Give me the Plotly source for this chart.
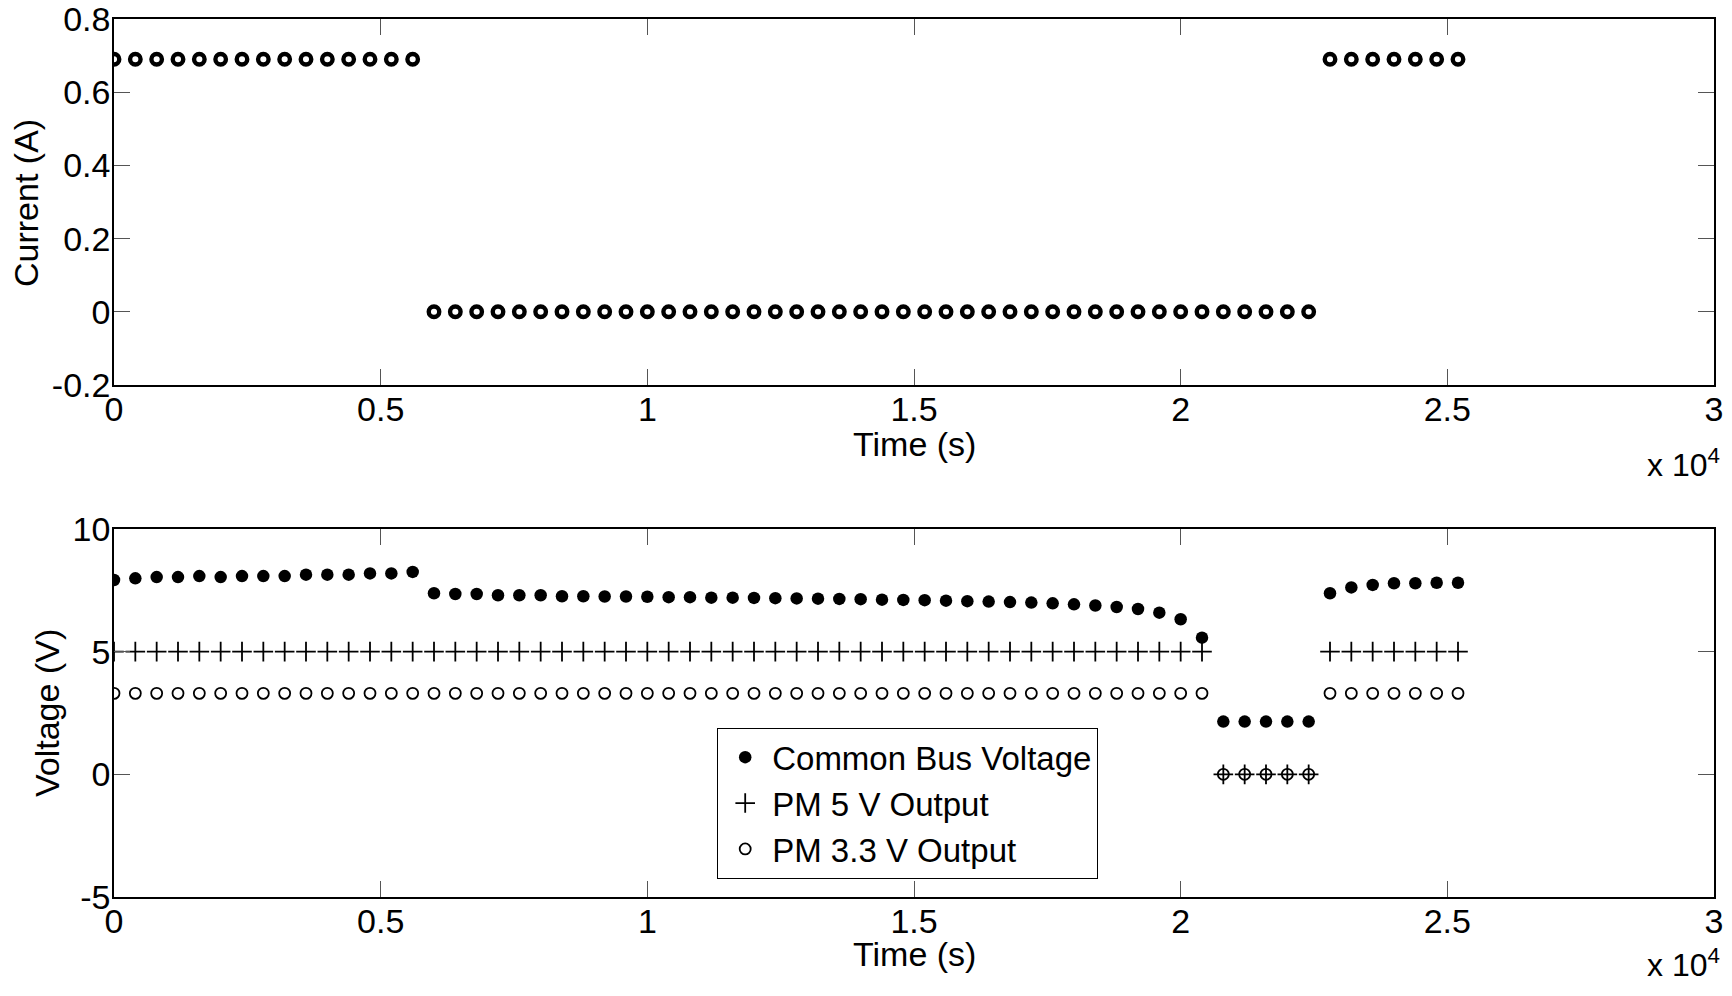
import plotly.graph_objects as go

# ---------------- data ----------------
time_s = [0, 400, 800, 1200, 1600, 2000, 2400, 2800, 3200, 3600, 4000, 4400, 4800, 5200, 5600,
          6000, 6400, 6800, 7200, 7600, 8000, 8400, 8800, 9200, 9600, 10000, 10400, 10800,
          11200, 11600, 12000, 12400, 12800, 13200, 13600, 14000, 14400, 14800, 15200, 15600,
          16000, 16400, 16800, 17200, 17600, 18000, 18400, 18800, 19200, 19600, 20000, 20400,
          20800, 21200, 21600, 22000, 22400,
          22800, 23200, 23600, 24000, 24400, 24800, 25200]

current_a = [0.69] * 15 + [0.0] * 42 + [0.69] * 7

bus_voltage = [7.92, 7.99, 8.04, 8.04, 8.08, 8.04, 8.08, 8.08, 8.08, 8.14, 8.14, 8.14, 8.19, 8.19, 8.25,
               7.38, 7.35, 7.35, 7.30, 7.30, 7.30, 7.26, 7.26, 7.25, 7.25, 7.24, 7.22, 7.22,
               7.20, 7.20, 7.19, 7.18, 7.17, 7.16, 7.15, 7.14, 7.12, 7.11, 7.10, 7.08,
               7.06, 7.04, 7.02, 7.00, 6.97, 6.93, 6.88, 6.82, 6.74, 6.59, 6.32, 5.57,
               2.15, 2.15, 2.15, 2.15, 2.15,
               7.38, 7.62, 7.72, 7.79, 7.79, 7.81, 7.81]

pm5_voltage = [5.0] * 52 + [0.0] * 5 + [5.0] * 7
pm33_voltage = [3.3] * 52 + [0.0] * 5 + [3.3] * 7

x_tickvals = [0, 5000, 10000, 15000, 20000, 25000, 30000]
x_ticktext = ["0", "0.5", "1", "1.5", "2", "2.5", "3"]
cur_tickvals = [-0.2, 0, 0.2, 0.4, 0.6, 0.8]
cur_ticktext = ["-0.2", "0", "0.2", "0.4", "0.6", "0.8"]
volt_tickvals = [-5, 0, 5, 10]
volt_ticktext = ["-5", "0", "5", "10"]

# ---------------- figure ----------------
FONT = "Liberation Sans, Arial, sans-serif"
W, H = 1732, 996
OFF = 8                      # default page body margin
FW, FH = W - 2 * OFF, H - 2 * OFF
FS = 34
EPS = 1e-6


def px(x):
    return (x - OFF) / FW


def py(y):
    return 1 - (y - OFF) / FH


fig = go.Figure()

fig.add_trace(go.Scatter(
    x=time_s, y=current_a, mode="markers", xaxis="x", yaxis="y",
    marker=dict(symbol="circle-open", size=10.5, color="black", line=dict(width=4.4, color="black")),
    showlegend=False, name="Current"))

fig.add_trace(go.Scatter(
    x=time_s, y=bus_voltage, mode="markers", xaxis="x2", yaxis="y2",
    marker=dict(symbol="circle", size=12.5, color="black"),
    name="Common Bus Voltage"))
fig.add_trace(go.Scatter(
    x=time_s, y=pm5_voltage, mode="markers", xaxis="x2", yaxis="y2",
    marker=dict(symbol="cross-thin-open", size=14, color="black", line=dict(width=1.8, color="black")),
    name="PM 5 V Output"))
fig.add_trace(go.Scatter(
    x=time_s, y=pm33_voltage, mode="markers", xaxis="x2", yaxis="y2",
    marker=dict(symbol="circle-open", size=11, color="black", line=dict(width=1.8, color="black")),
    name="PM 3.3 V Output"))

xdom = [px(114), px(1714)]
top_dom = [py(385), py(19)]
bot_dom = [py(897), py(529)]

axis_common = dict(
    showline=True, linecolor="black", linewidth=1.5, mirror="ticks",
    ticks="inside", ticklen=16, tickwidth=1.2, tickcolor="#555",
    showgrid=False, zeroline=False, automargin=False, ticklabeloverflow="allow",
    tickfont=dict(family=FONT, size=FS, color="black"),
)

fig.update_layout(
    template="none",
    width=FW, height=FH,
    margin=dict(l=0, r=0, t=0, b=0, pad=0, autoexpand=False),
    paper_bgcolor="white", plot_bgcolor="white",
    font=dict(family=FONT, size=FS, color="black"),
    xaxis=dict(domain=xdom, anchor="y", range=[0, 30000 + EPS], tickvals=x_tickvals, ticktext=x_ticktext,
               ticklabelstandoff=-7, **axis_common),
    yaxis=dict(domain=top_dom, anchor="x", range=[-0.2 - EPS, 0.8 + EPS], tickvals=cur_tickvals,
               ticktext=cur_ticktext, ticklabelstandoff=-5, **axis_common),
    xaxis2=dict(domain=xdom, anchor="y2", range=[0, 30000 + EPS], tickvals=x_tickvals, ticktext=x_ticktext,
                ticklabelstandoff=-7, **axis_common),
    yaxis2=dict(domain=bot_dom, anchor="x2", range=[-5 - EPS, 10 + EPS], tickvals=volt_tickvals,
                ticktext=volt_ticktext, ticklabelstandoff=-5, **axis_common),
    legend=dict(
        x=px(717), y=py(728), xanchor="left", yanchor="top",
        bgcolor="white", bordercolor="black", borderwidth=1.2,
        font=dict(family=FONT, size=33, color="black"),
        tracegroupgap=0, itemsizing="trace", itemwidth=44,
    ),
    showlegend=True,
)

ann_font = dict(family=FONT, size=FS, color="black")
fig.add_annotation(text="Current (A)", x=px(26), y=py(203), xref="paper", yref="paper",
                   textangle=-90, showarrow=False, font=ann_font, xanchor="center", yanchor="middle")
fig.add_annotation(text="Time (s)", x=px(914), y=py(444), xref="paper", yref="paper",
                   showarrow=False, font=ann_font, xanchor="center", yanchor="middle")
fig.add_annotation(text="Voltage (V)", x=px(47), y=py(713), xref="paper", yref="paper",
                   textangle=-90, showarrow=False, font=ann_font, xanchor="center", yanchor="middle")
fig.add_annotation(text="Time (s)", x=px(914), y=py(954), xref="paper", yref="paper",
                   showarrow=False, font=ann_font, xanchor="center", yanchor="middle")
fig.add_annotation(text="x 10<sup>4</sup>", x=px(1722), y=py(441), xref="paper", yref="paper",
                   showarrow=False, font=dict(family=FONT, size=32, color="black"),
                   xanchor="right", yanchor="top")
fig.add_annotation(text="x 10<sup>4</sup>", x=px(1722), y=py(941), xref="paper", yref="paper",
                   showarrow=False, font=dict(family=FONT, size=32, color="black"),
                   xanchor="right", yanchor="top")

fig.write_html("out.html")
